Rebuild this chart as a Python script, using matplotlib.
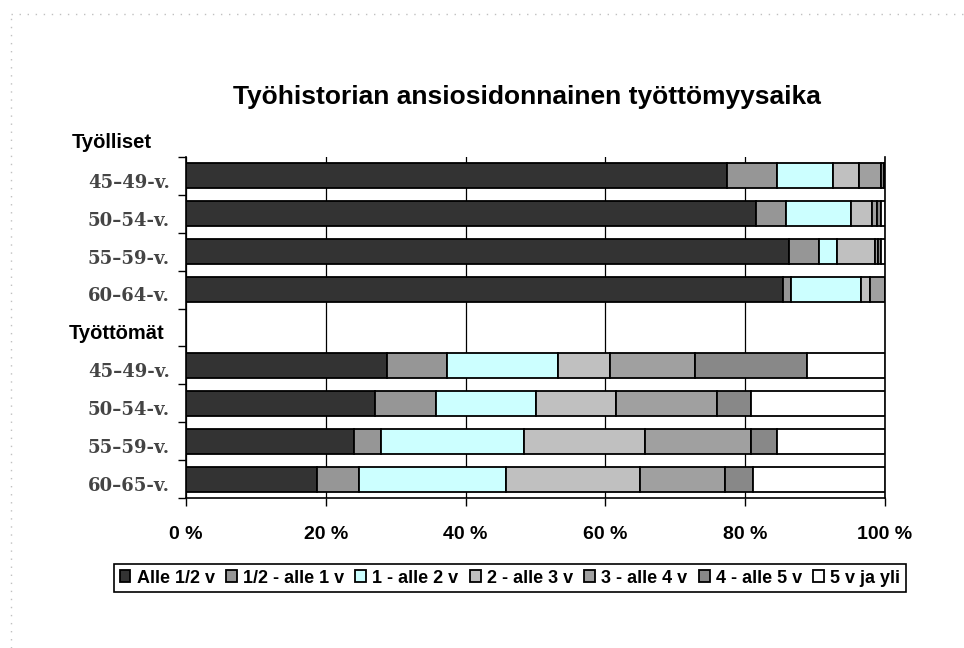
import numpy as np
import matplotlib
matplotlib.use("Agg")
from matplotlib import pyplot as plt
from matplotlib.lines import Line2D

# categories, top to bottom ("Työttömät" is an empty header row)
categories = ["45–49-v.", "50–54-v.", "55–59-v.", "60–64-v.", "Työttömät",
              "45–49-v.", "50–54-v.", "55–59-v.", "60–65-v."]
series = ["Alle 1/2 v", "1/2 - alle 1 v", "1 - alle 2 v", "2 - alle 3 v",
          "3 - alle 4 v", "4 - alle 5 v", "5 v ja yli"]
colors = ["#333333", "#969696", "#CCFFFF", "#C0C0C0", "#A0A0A0", "#888888", "#FFFFFF"]

alle_puoli = [77.4, 81.5, 86.3, 85.4, 0, 28.8, 27.0, 24.1, 18.7]
puoli_1 = [7.2, 4.3, 4.3, 1.2, 0, 8.6, 8.7, 3.8, 6.0]
v1_2 = [8.0, 9.4, 2.5, 10.0, 0, 15.8, 14.4, 20.4, 21.1]
v2_3 = [3.7, 2.9, 5.5, 1.2, 0, 7.5, 11.4, 17.3, 19.2]
v3_4 = [3.2, 0.8, 0.4, 2.2, 0, 12.1, 14.5, 15.2, 12.1]
v4_5 = [0.3, 0.6, 0.5, 0.0, 0, 16.1, 4.9, 3.8, 4.0]
yli_5 = [0.2, 0.5, 0.5, 0.0, 0, 11.1, 19.1, 15.4, 18.9]
values = [alle_puoli, puoli_1, v1_2, v2_3, v3_4, v4_5, yli_5]

fig = plt.figure(figsize=(9.64, 6.48), dpi=100)
ax = fig.add_axes([0.193, 0.2315, 0.725, 0.5262])

y = np.arange(len(categories))
left = np.zeros(len(categories))
for name, vals, c in zip(series, values, colors):
    vals = np.array(vals)
    ax.barh(y, vals, left=left, height=0.66, color=c, edgecolor="black",
            linewidth=1.3, label=name, zorder=3)
    left += vals

ax.set_xlim(0, 100)
ax.set_ylim(len(categories) - 0.5, -0.5)
ax.set_xticks(np.arange(0, 101, 20))
ax.set_xticklabels([f"{v} %" for v in range(0, 101, 20)],
                   fontsize=14, fontweight="bold", family="Liberation Sans")
ax.tick_params(axis="x", direction="out", length=6, width=1, pad=14, color="black")
ax.set_yticks([])
ax.set_yticks(np.arange(-0.5, len(categories)), minor=True)
ax.tick_params(axis="y", which="minor", direction="out", length=6, width=1)
ax.grid(axis="x", color="black", linewidth=0.9, zorder=0)
ax.spines["top"].set_visible(False)
for s in ["left", "right", "bottom"]:
    ax.spines[s].set_linewidth(1.2)

tr = ax.get_yaxis_transform()
for i, lab in enumerate(categories):
    if lab == "Työttömät":
        ax.text(-0.031, i + 0.15, lab, transform=tr, ha="right", va="center",
                fontsize=14.5, fontweight="bold", family="Liberation Sans")
    else:
        ax.text(-0.023, i + 0.18, lab, transform=tr, ha="right", va="center",
                fontsize=13, fontweight="bold", family="DejaVu Serif", color="#444444")
ax.text(-0.049, -0.88, "Työlliset", transform=tr, ha="right", va="center",
        fontsize=14.5, fontweight="bold", family="Liberation Sans")

fig.text(0.547, 0.85, "Työhistorian ansiosidonnainen työttömyysaika",
         ha="center", va="center", fontsize=19, fontweight="bold",
         family="Liberation Sans")

leg = fig.legend(loc="center", bbox_to_anchor=(0.529, 0.108), ncol=7,
                 prop={"family": "Liberation Sans", "weight": "bold", "size": 13},
                 handlelength=0.6, handleheight=0.6, handletextpad=0.35,
                 columnspacing=0.62, borderpad=0.3, fancybox=False,
                 edgecolor="black", framealpha=1, borderaxespad=0)
leg.get_frame().set_linewidth(1.2)

# dotted chart-area border (top and left)
fig.add_artist(Line2D([11 / 964, 1], [1 - 14 / 648, 1 - 14 / 648], transform=fig.transFigure,
                      color="#c0c0c0", lw=1, linestyle=(0, (1, 4.8))))
fig.add_artist(Line2D([11 / 964, 11 / 964], [0, 1 - 14 / 648], transform=fig.transFigure,
                      color="#c0c0c0", lw=1, linestyle=(0, (1, 4.8))))

fig.savefig("out.png", dpi=100)
